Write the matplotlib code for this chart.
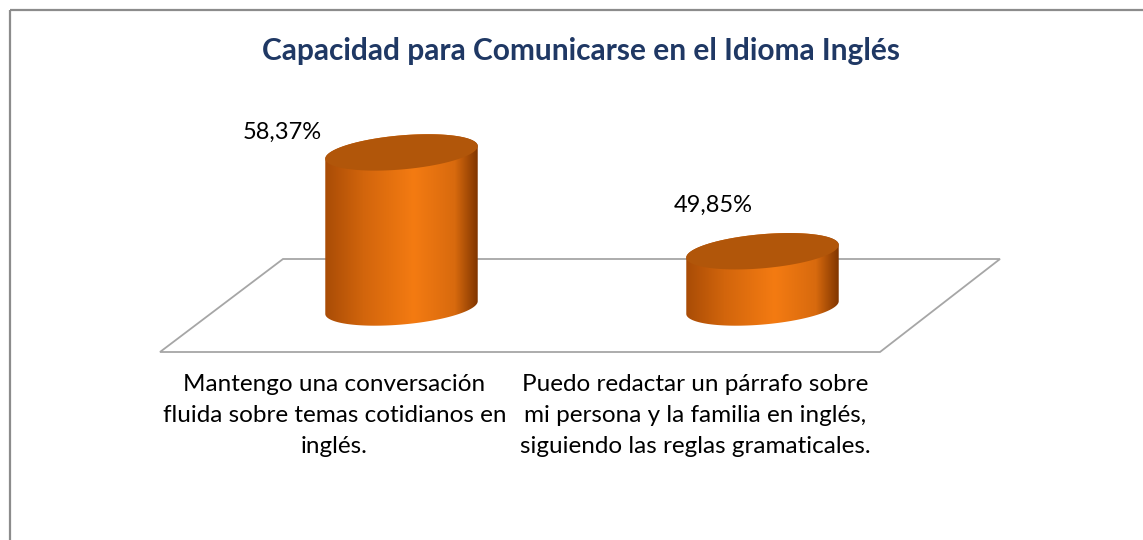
import numpy as np
import matplotlib
matplotlib.use("Agg")
import matplotlib.pyplot as plt
from matplotlib.patches import Polygon, Rectangle
from matplotlib.colors import LinearSegmentedColormap

# ---- data ----
categories = [
    "Mantengo una conversación\nfluida sobre temas cotidianos en\ninglés.",
    "Puedo redactar un párrafo sobre\nmi persona y la familia en inglés,\nsiguiendo las reglas gramaticales.",
]
values = [58.37, 49.85]
value_labels = ["58,37%", "49,85%"]
title = "Capacidad para Comunicarse en el Idioma Inglés"
axis_min = 45.0

FONT = ["Lato", "DejaVu Sans"]
plt.rcParams["font.family"] = FONT

W, H = 1143, 540
fig = plt.figure(figsize=(W / 100, H / 100), dpi=100)
fig.patch.set_facecolor("white")

ov = fig.add_axes([0, 0, 1, 1])
ov.set_xlim(0, W)
ov.set_ylim(H, 0)
ov.axis("off")

# value axes (invisible) used for the scale
dax = fig.add_axes([221 / W, 232.5 / H, 722 / W, 232 / H])
dax.set_xlim(-0.5, 1.5)
dax.set_ylim(axis_min, 65)
dax.axis("off")


def to_px(x, y):
    d = dax.transData.transform((x, y))
    return ov.transData.inverted().transform(d)


# outer border
ov.add_patch(Rectangle((9.5, 9.5), W, H, fill=False, edgecolor="#8c8c8c", lw=1.6, zorder=1))

# title
ov.text(581, 51, title, ha="center", va="center", fontsize=21.5, fontweight="bold",
        color="#1f3864", zorder=5)

# floor
floor = Polygon([(283, 259), (1000, 259), (880, 352), (160, 352)], closed=True,
                fill=False, edgecolor="#a6a6a6", lw=1.3, zorder=2)
ov.add_patch(floor)

a, b, theta = 76.5, 17.0, np.deg2rad(5)
tt = np.linspace(0, 2 * np.pi, 400, endpoint=False)


def ellipse_pts(cx, cy):
    ex, ey = a * np.cos(tt), b * np.sin(tt)
    x = cx + ex * np.cos(theta) + ey * np.sin(theta)
    y = cy - ex * np.sin(theta) + ey * np.cos(theta)
    return np.column_stack([x, y])


def hull(points):
    pts = sorted(map(tuple, points))

    def cross(o, p, q):
        return (p[0] - o[0]) * (q[1] - o[1]) - (p[1] - o[1]) * (q[0] - o[0])

    lower, upper = [], []
    for p in pts:
        while len(lower) >= 2 and cross(lower[-2], lower[-1], p) <= 0:
            lower.pop()
        lower.append(p)
    for p in reversed(pts):
        while len(upper) >= 2 and cross(upper[-2], upper[-1], p) <= 0:
            upper.pop()
        upper.append(p)
    return np.array(lower[:-1] + upper[:-1])


side_cmap = LinearSegmentedColormap.from_list(
    "side", [(0.0, "#a94c06"), (0.25, "#d2650c"), (0.58, "#f47b12"),
             (0.85, "#d86a0e"), (1.0, "#803500")])
grad = np.linspace(0, 1, 256).reshape(1, -1)

label_offsets = [(-119, -20), (-49, -46)]
cat_dx = -67

for i, (v, lab, cat) in enumerate(zip(values, value_labels, categories)):
    cx, by = to_px(i, axis_min)
    _, ty = to_px(i, v)
    bot = ellipse_pts(cx, by)
    top = ellipse_pts(cx, ty)
    side = hull(np.vstack([bot, top]))
    sp = Polygon(side, closed=True, facecolor="none", edgecolor="none", zorder=3)
    ov.add_patch(sp)
    xmin, xmax = side[:, 0].min(), side[:, 0].max()
    ymin, ymax = side[:, 1].min(), side[:, 1].max()
    im = ov.imshow(grad, cmap=side_cmap, aspect="auto",
                   extent=(xmin, xmax, ymax, ymin), zorder=3, interpolation="bilinear")
    im.set_clip_path(sp)
    ov.add_patch(Polygon(top, closed=True, facecolor="#b1560a", edgecolor="none", zorder=4))
    ox, oy = label_offsets[i]
    ov.text(cx + ox, ty + oy, lab, ha="center", va="center", fontsize=17, color="#000000", zorder=5)
    ov.text(cx + cat_dx, 374, cat, ha="center", va="top", fontsize=17.5, color="#000000",
            linespacing=1.58, zorder=5)

ov.set_xlim(0, W)
ov.set_ylim(H, 0)
fig.savefig("out.png", dpi=100, facecolor="white")
